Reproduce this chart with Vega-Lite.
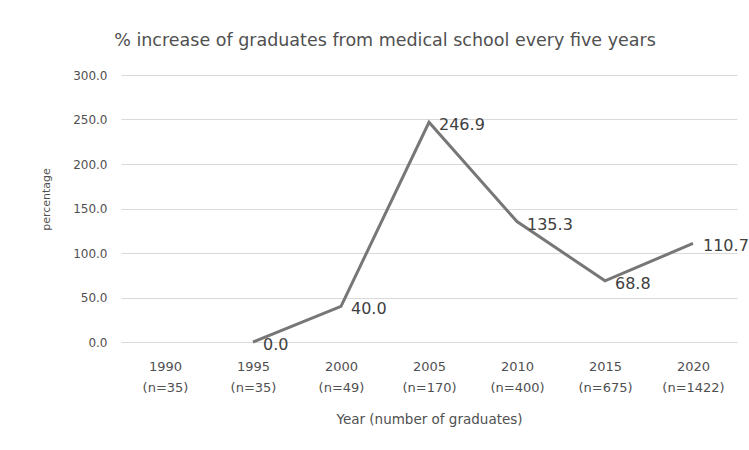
{
  "$schema": "https://vega.github.io/schema/vega-lite/v6.json",
  "width": 616,
  "height": 267,
  "autosize": "none",
  "padding": {"left": 121, "top": 75, "right": 12, "bottom": 108},
  "background": "white",
  "config": {"view": {"stroke": null}, "font": "DejaVu Sans"},
  "title": {
    "text": "% increase of graduates from medical school every five years",
    "fontSize": 17.5,
    "fontWeight": "normal",
    "color": "#505050",
    "anchor": "middle",
    "dx": -44,
    "offset": 20
  },
  "data": {
    "values": [
      {"year": "1990 (n=35)", "pct": null},
      {"year": "1995 (n=35)", "pct": 0.0},
      {"year": "2000 (n=49)", "pct": 40.0},
      {"year": "2005 (n=170)", "pct": 246.9},
      {"year": "2010 (n=400)", "pct": 135.3},
      {"year": "2015 (n=675)", "pct": 68.8},
      {"year": "2020 (n=1422)", "pct": 110.7}
    ]
  },
  "encoding": {
    "x": {
      "field": "year",
      "type": "ordinal",
      "sort": null,
      "scale": {"domain": ["1990 (n=35)", "1995 (n=35)", "2000 (n=49)", "2005 (n=170)", "2010 (n=400)", "2015 (n=675)", "2020 (n=1422)"], "paddingInner": 0, "paddingOuter": 0},
      "axis": {
        "title": "Year (number of graduates)",
        "titleFontSize": 13.5,
        "titleFontWeight": "normal",
        "titleColor": "#505050",
        "titlePadding": 18,
        "labelAngle": 0,
        "labelExpr": "split(datum.value, ' ')",
        "labelFontSize": 13,
        "labelColor": "#505050",
        "labelLineHeight": 21,
        "labelPadding": 18,
        "ticks": false,
        "domain": false,
        "grid": false
      }
    },
    "y": {
      "field": "pct",
      "type": "quantitative",
      "scale": {"domain": [0, 300], "nice": false},
      "axis": {
        "title": "percentage",
        "titleFontSize": 11,
        "titleFontWeight": "normal",
        "titleColor": "#505050",
        "titleX": -75,
        "titleY": 124,
        "titleAngle": -90,
        "titleAlign": "center",
        "titleBaseline": "middle",
        "values": [0, 50, 100, 150, 200, 250, 300],
        "format": ".1f",
        "labelFontSize": 12,
        "labelColor": "#505050",
        "labelPadding": 14,
        "ticks": false,
        "domain": false,
        "gridColor": "#d9d9d9",
        "gridWidth": 1
      }
    }
  },
  "layer": [
    {
      "mark": {"type": "line", "color": "#777777", "strokeWidth": 3}
    },
    {
      "mark": {"type": "text", "align": "left", "baseline": "middle", "dx": 10, "dy": 3, "fontSize": 16, "color": "#404040"},
      "encoding": {"text": {"field": "pct", "type": "quantitative", "format": ".1f"}}
    }
  ]
}
